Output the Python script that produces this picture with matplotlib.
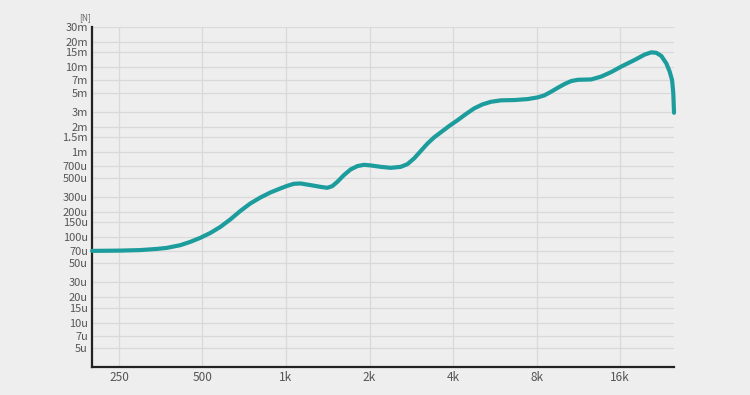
import matplotlib
matplotlib.use('Agg')
from matplotlib import pyplot as plt

plt.rcParams['font.family'] = ['Noto Sans CJK JP', 'DejaVu Sans']

# frequency [Hz] and force [N]
freq = [200, 252, 298, 343, 372, 416, 452, 491, 534, 580, 630, 685, 744, 809, 879,
        955, 1010, 1067, 1128, 1226, 1332, 1408, 1468, 1530, 1616, 1709, 1807, 1909,
        2018, 2194, 2384, 2590, 2738, 2894, 3060, 3234, 3416, 3612, 3870, 4152,
        4447, 4765, 5110, 5474, 5950, 6645, 7428, 8072, 8528, 9016, 9536, 10072,
        10650, 11260, 12576, 13664, 14850, 16136, 18030, 19590, 20700, 21580,
        22500, 23460, 24120, 24600, 24850, 25000]
force = [69.5e-6, 70e-6, 71e-6, 73.3e-6, 75.4e-6, 81.1e-6, 88.7e-6, 98.9e-6,
         113e-6, 133e-6, 163e-6, 205e-6, 251e-6, 295e-6, 338e-6, 377e-6, 404e-6,
         427e-6, 431e-6, 412e-6, 393e-6, 383e-6, 401e-6, 450e-6, 540e-6, 630e-6,
         689e-6, 714e-6, 702e-6, 676e-6, 658e-6, 676e-6, 727e-6, 849e-6, 1.04e-3,
         1.27e-3, 1.5e-3, 1.72e-3, 2.04e-3, 2.39e-3, 2.82e-3, 3.29e-3, 3.67e-3,
         3.93e-3, 4.09e-3, 4.12e-3, 4.23e-3, 4.43e-3, 4.68e-3, 5.16e-3, 5.75e-3,
         6.35e-3, 6.89e-3, 7.13e-3, 7.2e-3, 7.78e-3, 8.79e-3, 10.2e-3, 12.2e-3,
         14.1e-3, 15e-3, 14.8e-3, 13.6e-3, 11.1e-3, 8.87e-3, 7.08e-3, 4.94e-3,
         2.92e-3]

xticks = [250, 500, 1000, 2000, 4000, 8000, 16000]
xlabels = ['250', '500', '1k', '2k', '4k', '8k', '16k']
yticks = [5e-6, 7e-6, 10e-6, 15e-6, 20e-6, 30e-6, 50e-6, 70e-6, 100e-6, 150e-6,
          200e-6, 300e-6, 500e-6, 700e-6, 1e-3, 1.5e-3, 2e-3, 3e-3, 5e-3, 7e-3,
          10e-3, 15e-3, 20e-3, 30e-3]
ylabels = ['5u', '7u', '10u', '15u', '20u', '30u', '50u', '70u', '100u', '150u',
           '200u', '300u', '500u', '700u', '1m', '1.5m', '2m', '3m', '5m', '7m',
           '10m', '15m', '20m', '30m']

bg = '#eeeeee'
fig = plt.figure(figsize=(7.5, 3.95), dpi=100, facecolor=bg)
ax = fig.add_axes([0.1227, 0.0709, 0.776, 0.8615], facecolor=bg)

ax.set_xscale('log')
ax.set_yscale('log')
ax.set_xlim(200, 25000)
ax.set_ylim(3e-6, 30e-3)

ax.set_xticks(xticks)
ax.set_xticklabels(xlabels)
ax.set_xticks([], minor=True)
ax.set_yticks(yticks)
ax.set_yticklabels(ylabels)
ax.set_yticks([], minor=True)

ax.grid(True, color='#d9d9d9', linewidth=0.9)
ax.set_axisbelow(True)
ax.tick_params(length=0, labelsize=8, colors='#555555', pad=3)
ax.tick_params(axis='x', labelsize=8.5, pad=3)

for s in ['top', 'right']:
    ax.spines[s].set_visible(False)
for s in ['left', 'bottom']:
    ax.spines[s].set_color('#222222')
    ax.spines[s].set_linewidth(1.6)

ax.plot(freq, force, color='#1c9c9c', linewidth=3, solid_joinstyle='round',
        solid_capstyle='round', clip_on=False, zorder=3)

fig.text(0.113, 0.955, '[N]', fontsize=6, color='#666666', ha='center', va='center')

plt.savefig('out.png', dpi=100, facecolor=bg)
